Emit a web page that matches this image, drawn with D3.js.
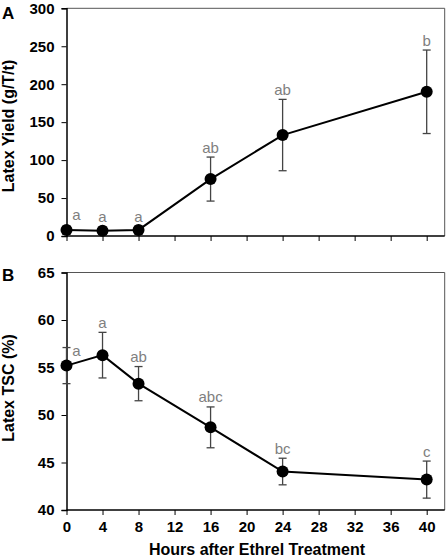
<!DOCTYPE html>
<html><head><meta charset="utf-8">
<script src="https://cdn.jsdelivr.net/npm/d3@7"></script>
<style>body{margin:0;background:#fff}svg{display:block}text{font-family:Arial,"Liberation Sans",sans-serif}</style>
</head><body><svg id="c" width="448" height="558"></svg>
<script>
const hours = [0, 4, 8, 16, 24, 40];
const xTicks = [0, 4, 8, 12, 16, 20, 24, 28, 32, 36, 40];
const yieldMean = [8, 7, 8, 75, 133, 190];
const yieldErr = [5, 5, 5, 29, 47, 55];
const yieldLetters = ["a", "a", "a", "ab", "ab", "b"];
const yieldTicks = [0, 50, 100, 150, 200, 250, 300];
const tscMean = [55.2, 56.3, 53.3, 48.7, 44.05, 43.2];
const tscErr = [1.9, 2.4, 1.8, 2.15, 1.4, 1.95];
const tscLetters = ["a", "a", "ab", "abc", "bc", "c"];
const tscTicks = [40, 45, 50, 55, 60, 65];

const svg = d3.select("#c");
const x = d3.scaleLinear().domain([0, 42]).range([66.5, 444.7]);

function panel(opts) {
  const y = d3.scaleLinear().domain(opts.domain).range(opts.range);
  const g = svg.append("g");
  const [x0, x1] = x.range();
  const [yb, yt] = y.range();
  g.append("path").attr("d", `M${x0},${yt}H${x1}V${yb}`).attr("fill", "none").attr("stroke", "#555").attr("stroke-width", 1);
  const ya = g.append("g").attr("transform", `translate(${x0},0)`)
    .call(d3.axisLeft(y).tickValues(opts.yTicks).tickSize(5).tickPadding(7).tickFormat(d3.format("d")));
  ya.select(".domain").attr("stroke", "#000").attr("stroke-width", 1.5);
  ya.selectAll("text").attr("font-size", 15).attr("font-weight", "bold").attr("fill", "#000");
  const xa = g.append("g").attr("transform", `translate(0,${yb})`)
    .call(d3.axisBottom(x).tickValues(xTicks).tickSize(5).tickPadding(6).tickFormat(opts.xLabels ? d3.format("d") : ""));
  xa.select(".domain").attr("stroke", "#000").attr("stroke-width", 1.5).attr("d", `M${x0},0H${x1}`);
  xa.selectAll("text").attr("font-size", 15).attr("font-weight", "bold").attr("fill", "#000");
  xa.selectAll(".tick line").attr("stroke", "#000");
  const eb = g.append("g").attr("stroke", "#444").attr("stroke-width", 1.3);
  hours.forEach((h, i) => {
    const cx = x(h), t = y(opts.mean[i] + opts.err[i]), b = y(opts.mean[i] - opts.err[i]);
    eb.append("line").attr("x1", cx).attr("x2", cx).attr("y1", t).attr("y2", b);
    eb.append("line").attr("x1", cx - 4).attr("x2", cx + 4).attr("y1", t).attr("y2", t);
    eb.append("line").attr("x1", cx - 4).attr("x2", cx + 4).attr("y1", b).attr("y2", b);
  });
  g.append("path").datum(hours.map((h, i) => [h, opts.mean[i]]))
    .attr("d", d3.line().x(d => x(d[0])).y(d => y(d[1])))
    .attr("fill", "none").attr("stroke", "#000").attr("stroke-width", 2);
  g.selectAll("circle.m").data(hours).enter().append("circle")
    .attr("cx", d => x(d)).attr("cy", (d, i) => y(opts.mean[i])).attr("r", 6).attr("fill", "#000");
  g.selectAll("text.l").data(opts.letters).enter().append("text")
    .attr("x", (d, i) => x(hours[i]) + (i === 0 ? 10 : 0))
    .attr("y", (d, i) => i === 0 ? y(opts.mean[i]) - 10 : y(opts.mean[i] + opts.err[i]) - 4.5)
    .attr("text-anchor", "middle").attr("font-size", 15).attr("fill", "#808080").text(d => d);
  g.append("text").attr("transform", `translate(14,${opts.titleY}) rotate(-90)`)
    .attr("text-anchor", "middle").attr("font-size", 16).attr("font-weight", "bold").text(opts.title);
  g.append("text").attr("x", 2).attr("y", opts.letterY).attr("font-size", 17).attr("font-weight", "bold").text(opts.panel);
}

panel({domain: [0, 300], range: [236, 8.3], yTicks: yieldTicks, mean: yieldMean, err: yieldErr,
  letters: yieldLetters, xLabels: false, title: "Latex Yield (g/T/t)", titleY: 126, panel: "A", letterY: 18.5});
panel({domain: [40, 65], range: [510, 272.5], yTicks: tscTicks, mean: tscMean, err: tscErr,
  letters: tscLetters, xLabels: true, title: "Latex TSC (%)", titleY: 388, panel: "B", letterY: 281});

svg.append("text").attr("x", 257).attr("y", 555).attr("text-anchor", "middle")
  .attr("font-size", 16).attr("font-weight", "bold").text("Hours after Ethrel Treatment");
</script></body></html>
